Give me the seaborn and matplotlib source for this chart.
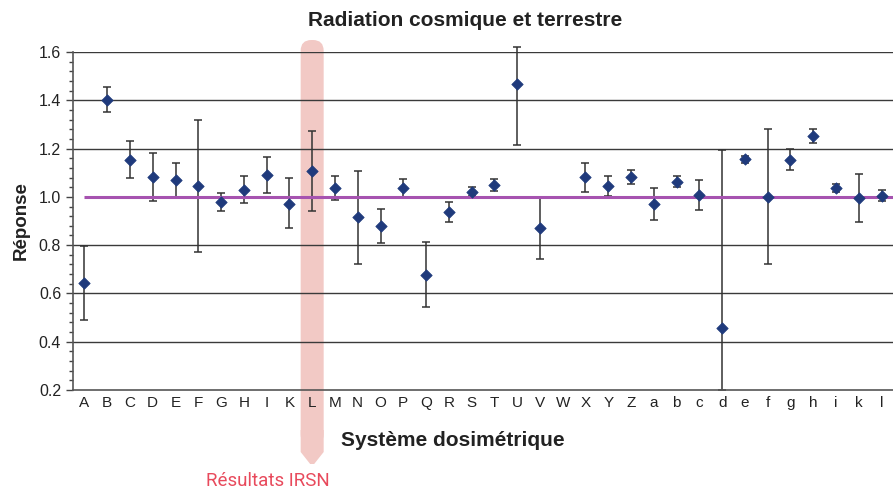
import numpy as np
import pandas as pd
import matplotlib
matplotlib.use("Agg")
import matplotlib.pyplot as plt
import seaborn as sns
from matplotlib.patches import FancyBboxPatch, Polygon
from matplotlib.ticker import MultipleLocator, FixedLocator

categories = ["A", "B", "C", "D", "E", "F", "G", "H", "I", "K", "L", "M", "N", "O", "P",
              "Q", "R", "S", "T", "U", "V", "W", "X", "Y", "Z", "a", "b", "c", "d", "e",
              "f", "g", "h", "i", "k", "l"]
response = [0.642, 1.400, 1.154, 1.082, 1.068, 1.044, 0.979, 1.030, 1.089, 0.972, 1.106, 1.035,
            0.915, 0.878, 1.035, 0.676, 0.937, 1.021, 1.050, 1.467, 0.871, np.nan, 1.081, 1.044,
            1.082, 0.970, 1.063, 1.008, 0.455, 1.157, 1.000, 1.154, 1.252, 1.037, 0.995, 1.005]
upper = [0.796, 1.454, 1.230, 1.183, 1.139, 1.318, 1.017, 1.086, 1.164, 1.077, 1.273, 1.085,
         1.108, 0.948, 1.075, 0.812, 0.980, 1.039, 1.076, 1.620, 1.000, np.nan, 1.139, 1.085,
         1.113, 1.037, 1.086, 1.068, 1.194, 1.169, 1.280, 1.200, 1.281, 1.052, 1.093, 1.030]
lower = [0.490, 1.350, 1.078, 0.983, 1.000, 0.770, 0.940, 0.975, 1.016, 0.870, 0.940, 0.987,
         0.722, 0.809, 1.000, 0.545, 0.896, 1.005, 1.023, 1.216, 0.744, np.nan, 1.020, 1.005,
         1.053, 0.906, 1.041, 0.947, 0.200, 1.142, 0.723, 1.110, 1.223, 1.020, 0.897, 0.984]
y_ticks = [0.2, 0.4, 0.6, 0.8, 1.0, 1.2, 1.4, 1.6]
reference_value = 1.0
highlight = "L"

df = pd.DataFrame({"cat": categories, "pos": np.arange(len(categories)),
                   "val": response, "up": upper, "lo": lower})

sns.set_style("white")
plt.rcParams["font.family"] = ["Liberation Sans", "DejaVu Sans"]

fig = plt.figure(figsize=(8.93, 4.91), dpi=100)
ax = fig.add_axes([73 / 893, 1 - 390 / 491, 1 - 73 / 893, (390 - 52) / 491])

n = len(categories)
ax.set_xlim(-0.5, n - 0.5)
ax.set_ylim(0.2, 1.6)

# gridlines
for t in y_ticks[1:]:
    if abs(t - reference_value) > 1e-9:
        ax.axhline(t, color="#3a3a3a", lw=1.0, zorder=1)

# error bars
valid = df.dropna()
ax.errorbar(valid["pos"], valid["val"],
            yerr=[valid["val"] - valid["lo"], valid["up"] - valid["val"]],
            fmt="none", ecolor="#333333", elinewidth=1.1, capsize=3.0, capthick=1.1,
            zorder=2, clip_on=False)

# reference line
ax.hlines(reference_value, 0, n - 0.5, color="#A653B0", lw=2.2, zorder=3)

sns.scatterplot(data=valid, x="pos", y="val", marker="D", s=34, color="#1F3A7C",
                edgecolor="#1F3A7C", linewidth=0.5, ax=ax, zorder=4, clip_on=False)

ax.set_xlabel("")
ax.set_ylabel("")
ax.xaxis.set_major_locator(FixedLocator(np.arange(n)))
ax.set_xticklabels(categories)
ax.xaxis.set_minor_locator(FixedLocator(np.arange(n + 1) - 0.5))
ax.tick_params(axis="x", which="major", length=0, pad=4, labelsize=11, labelcolor="#222222")
ax.tick_params(axis="x", which="minor", length=4, width=1, color="#444444", direction="out")
ax.yaxis.set_major_locator(FixedLocator(y_ticks))
ax.set_yticklabels([f"{t:.1f}" for t in y_ticks])
ax.yaxis.set_minor_locator(MultipleLocator(0.04))
ax.tick_params(axis="y", which="major", length=5, width=1, color="#444444", direction="out",
               labelsize=11.5, labelcolor="#222222", left=True)
ax.tick_params(axis="y", which="minor", length=3, width=1, color="#444444", direction="out",
               left=True)
for s in ["top", "right"]:
    ax.spines[s].set_visible(False)
for s in ["left", "bottom"]:
    ax.spines[s].set_color("#555555")
    ax.spines[s].set_linewidth(1.2)

# highlight band for IRSN results
W, H = 893, 491
hpos = categories.index(highlight)
xc = 73 + (hpos + 0.5) * (W - 73) / n
bw = 23
band_col = "#F2C9C5"
band = FancyBboxPatch(((xc - bw / 2) / W, 1 - 445 / H), bw / W, (445 - 40) / H,
                      boxstyle="round,pad=0,rounding_size=0.012", transform=fig.transFigure,
                      facecolor=band_col, edgecolor="none", zorder=0, mutation_aspect=W / H)
fig.patches.append(band)
tip = Polygon([((xc - bw / 2) / W, 1 - 430 / H), ((xc + bw / 2) / W, 1 - 430 / H),
               ((xc + bw / 2) / W, 1 - 452 / H), ((xc + 2) / W, 1 - 464 / H),
               ((xc - 2) / W, 1 - 464 / H), ((xc - bw / 2) / W, 1 - 452 / H)],
              closed=True, transform=fig.transFigure,
              facecolor=band_col, edgecolor="none", zorder=0)
fig.patches.append(tip)
ax.set_facecolor("none")
ax.set_zorder(1)

fig.text(465 / W, 1 - 20 / H, "Radiation cosmique et terrestre", ha="center", va="center",
         fontsize=15, fontweight="bold", color="#222222")
fig.text(453 / W, 1 - 440 / H, "Système dosimétrique", ha="center", va="center",
         fontsize=15, fontweight="bold", color="#222222")
fig.text(21 / W, 1 - 221 / H, "Réponse", ha="center", va="center", rotation=90,
         fontsize=13.5, fontweight="bold", color="#222222")
fig.text(206 / W, 1 - 481 / H, "Résultats IRSN", ha="left", va="center",
         fontsize=13.5, color="#E84A5C", family=["Roboto", "DejaVu Sans"])

fig.savefig("out.png", dpi=100)
